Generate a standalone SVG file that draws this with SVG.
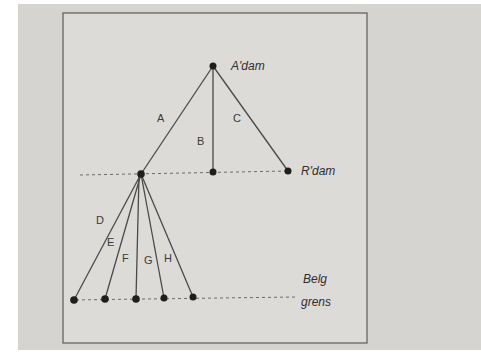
<svg xmlns="http://www.w3.org/2000/svg" width="481" height="353" viewBox="0 0 481 353">
<style>
.ln{stroke:#4a4a4a;stroke-width:1.3;fill:none}
.dot{stroke:#6a6a6a;stroke-width:1;stroke-dasharray:3 3;fill:none}
.nd{fill:#1e1e1e}
.t{font-family:"Liberation Sans",Arial,sans-serif;fill:#2e2e2e;font-size:12px;font-style:italic}
.s{font-family:"Liberation Sans",Arial,sans-serif;fill:#3a3a3a;font-size:11px}
</style>
<rect width="481" height="353" fill="#ffffff"/>
<rect x="18" y="4" width="463" height="346" fill="#d6d4d1"/>
<rect x="63" y="13" width="304" height="330" fill="#dddbd8" stroke="#5a5a5a" stroke-width="1.2"/>
<g id="connectors">
<path class="dot" d="M80 175 L288 171"/>
<path class="dot" d="M70 300 L296 297"/>
<path class="ln" d="M213 66 L141 174"/>
<path class="ln" d="M213 66 L213 172"/>
<path class="ln" d="M213 66 L288 171"/>
<path class="ln" d="M141 174 L74 300"/>
<path class="ln" d="M141 174 L105 299"/>
<path class="ln" d="M139 176 L136 299"/>
<path class="ln" d="M141 174 L164 298"/>
<path class="ln" d="M141 174 L193 297"/>
<text class="s" x="157" y="122">A</text>
<text class="s" x="197" y="145">B</text>
<text class="s" x="233" y="122">C</text>
<text class="s" x="96" y="224" font-size="9">D</text>
<text class="s" x="107" y="246" font-size="9">E</text>
<text class="s" x="122" y="262" font-size="9">F</text>
<text class="s" x="144" y="264" font-size="9">G</text>
<text class="s" x="164" y="262" font-size="9">H</text>
</g>
<g id="adam"><circle class="nd" cx="213" cy="66" r="3.5"/><text class="t" x="231" y="70">A'dam</text></g>
<g id="junction"><circle class="nd" cx="141" cy="174" r="3.8"/></g>
<g id="mid"><circle class="nd" cx="213" cy="172" r="3.5"/></g>
<g id="rdam"><circle class="nd" cx="288" cy="171" r="3.5"/><text class="t" x="301" y="175">R'dam</text></g>
<g id="b1"><circle class="nd" cx="74" cy="300" r="3.8"/></g>
<g id="b2"><circle class="nd" cx="105" cy="299" r="3.8"/></g>
<g id="b3"><circle class="nd" cx="136" cy="299" r="3.8"/></g>
<g id="b4"><circle class="nd" cx="164" cy="298" r="3.5"/></g>
<g id="b5"><circle class="nd" cx="193" cy="297" r="3.5"/></g>
<g id="belg"><text class="t" x="303" y="283">Belg</text><text class="t" x="301" y="306">grens</text></g>
</svg>
